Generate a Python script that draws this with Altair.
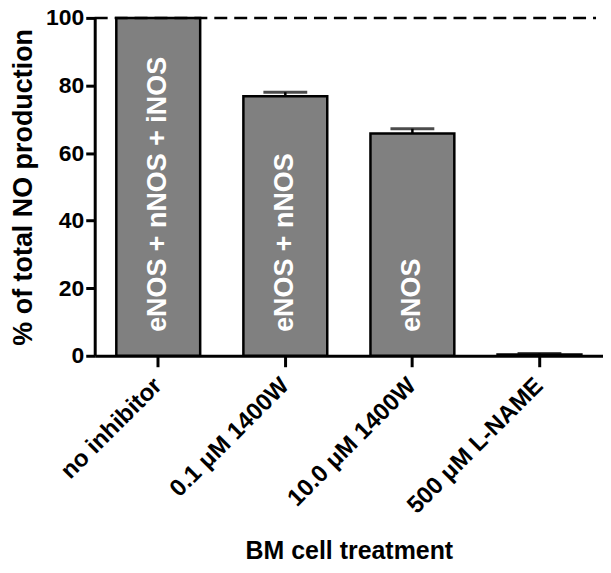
import altair as alt
import pandas as pd

categories = ["no inhibitor", "0.1 μM 1400W", "10.0 μM 1400W", "500 μM L-NAME"]
values = [100.0, 76.8, 65.8, 0.4]
errors = [0.0, 1.2, 1.4, 0.3]
inner_labels = ["eNOS + nNOS + iNOS", "eNOS + nNOS", "eNOS", ""]

df = pd.DataFrame({
    "treatment": categories,
    "value": values,
    "err": errors,
    "upper": [v + e for v, e in zip(values, errors)],
    "label": inner_labels,
})

FONT = "Liberation Sans"

x_enc = alt.X(
    "treatment:N",
    sort=categories,
    scale=alt.Scale(paddingInner=0.34, paddingOuter=0.17),
    axis=alt.Axis(
        title="BM cell treatment",
        labelAngle=-45,
        labelAlign="right",
        labelBaseline="middle",
        labelFontSize=24,
        labelPadding=15,
        labelLimit=400,
        titleFontSize=25,
        titlePadding=21,
        tickSize=11,
    ),
)

y_scale = alt.Scale(domain=[0, 100], nice=False)

bars = alt.Chart(df).mark_bar(
    color="#808080", stroke="black", strokeWidth=2.5
).encode(
    x=x_enc,
    y=alt.Y(
        "value:Q",
        scale=y_scale,
        axis=alt.Axis(
            title="% of total NO production",
            values=[0, 20, 40, 60, 80, 100],
            labelFontSize=23,
            labelPadding=2,
            titleFontSize=27,
            titlePadding=8,
            tickSize=9,
        ),
    ),
)

err_df = df[df["err"] > 0]

err_rule = alt.Chart(err_df).mark_rule(color="black", strokeWidth=2.5).encode(
    x=alt.X("treatment:N", sort=categories),
    y=alt.Y("value:Q", scale=y_scale),
    y2="upper:Q",
)

err_cap = alt.Chart(err_df).mark_tick(
    color="black", size=44, thickness=3
).encode(
    x=alt.X("treatment:N", sort=categories),
    y=alt.Y("upper:Q", scale=y_scale),
)

ref = alt.Chart(pd.DataFrame({"ref": [100]})).mark_rule(
    color="black", strokeWidth=2.5, strokeDash=[13, 7]
).encode(
    y=alt.Y("ref:Q", scale=y_scale),
    x=alt.value(0),
    x2=alt.value(503),
)

txt = alt.Chart(df).mark_text(
    angle=270, align="left", baseline="middle", color="white",
    fontWeight="bold", fontSize=27, font=FONT,
).encode(
    x=alt.X("treatment:N", sort=categories),
    y=alt.value(315),
    text="label:N",
)

chart = alt.layer(bars, err_rule, err_cap, ref, txt).properties(
    width=510,
    height=339,
    autosize=alt.AutoSizeParams(type="none"),
    padding={"left": 87, "top": 9, "right": 0, "bottom": 208},
).configure_view(
    stroke=None
).configure_axis(
    domainColor="black",
    domainWidth=3,
    tickColor="black",
    tickWidth=3,
    grid=False,
    labelFont=FONT,
    labelFontWeight="bold",
    labelColor="black",
    titleFont=FONT,
    titleFontWeight="bold",
    titleColor="black",
)

chart.save("out.html", embed_options={"renderer": "svg", "actions": False})
